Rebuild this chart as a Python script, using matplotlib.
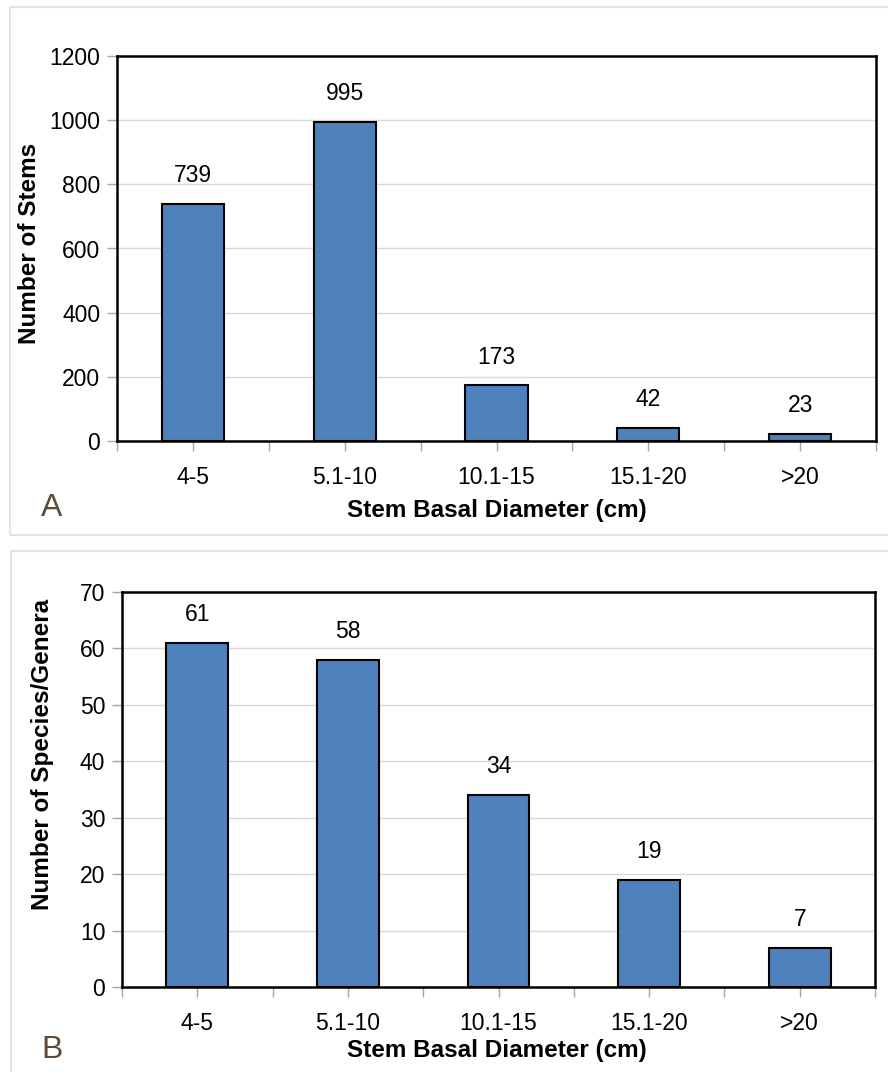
import matplotlib.pyplot as plt
from matplotlib.patches import Rectangle
import numpy as np

plt.rcParams["font.family"] = ["Liberation Sans", "DejaVu Sans"]

# Data
categories = ["4-5", "5.1-10", "10.1-15", "15.1-20", ">20"]
stems = [739, 995, 173, 42, 23]
species = [61, 58, 34, 19, 7]

W, H = 888, 1072
fig = plt.figure(figsize=(W / 100, H / 100), dpi=100)

BAR_COLOR = "#4F81BD"
GRID_COLOR = "#D9D9D9"
TICK_COLOR = "#A6A6A6"


def px_axes(left, top, right, bottom):
    return fig.add_axes([left / W, 1 - bottom / H, (right - left) / W, (bottom - top) / H])


def panel_box(left, top, right, bottom):
    fig.patches.append(
        Rectangle(
            (left / W, 1 - bottom / H),
            (right - left) / W,
            (bottom - top) / H,
            transform=fig.transFigure,
            fill=False,
            edgecolor="#E3E3E3",
            linewidth=1.5,
        )
    )


def draw_panel(ax, values, ymax, ystep, ylabel, ylabel_pos, letter, letter_y, xlabel_y, label_gap):
    x = np.arange(len(categories))
    ax.bar(x, values, width=0.41, color=BAR_COLOR, edgecolor="black", linewidth=1.5, zorder=3)
    for xi, v in zip(x, values):
        ax.text(xi, v + label_gap, str(v), ha="center", va="center", fontsize=16.5, zorder=4)

    ax.set_xlim(-0.5, len(categories) - 0.5)
    ax.set_ylim(0, ymax)
    ax.set_yticks(np.arange(0, ymax + 1, ystep))
    ax.yaxis.grid(True, color=GRID_COLOR, linewidth=1)
    ax.set_axisbelow(True)

    ax.set_xticks(x)
    ax.set_xticklabels(categories)
    ax.set_xticks(np.arange(-0.5, len(categories)), minor=True)
    ax.tick_params(axis="both", which="both", color=TICK_COLOR, length=7, width=1, labelsize=16.5)
    ax.tick_params(axis="x", which="major", pad=11)
    ax.tick_params(axis="y", pad=5)

    for s in ax.spines.values():
        s.set_linewidth(1.8)
        s.set_color("black")

    fig.text(ylabel_pos[0] / W, 1 - ylabel_pos[1] / H, ylabel, rotation=90, ha="center", va="center",
             fontsize=17.5, fontweight="bold")
    fig.text(497 / W, 1 - xlabel_y / H, "Stem Basal Diameter (cm)", ha="center", va="center",
             fontsize=17.5, fontweight="bold")
    fig.text(41 / W, 1 - letter_y / H, letter, ha="left", va="center", fontsize=23, color="#5E4B35")


panel_box(10, 7, 900, 535)
panel_box(11, 551, 900, 1085)

ax1 = px_axes(117, 56, 876, 441)
draw_panel(ax1, stems, 1200, 200, "Number of Stems", (30, 243), "A", 508, 511, 88)

ax2 = px_axes(122, 592, 875, 987)
draw_panel(ax2, species, 70, 10, "Number of Species/Genera", (42, 754), "B", 1050, 1050, 5.0)

fig.savefig("out.png", dpi=100)
